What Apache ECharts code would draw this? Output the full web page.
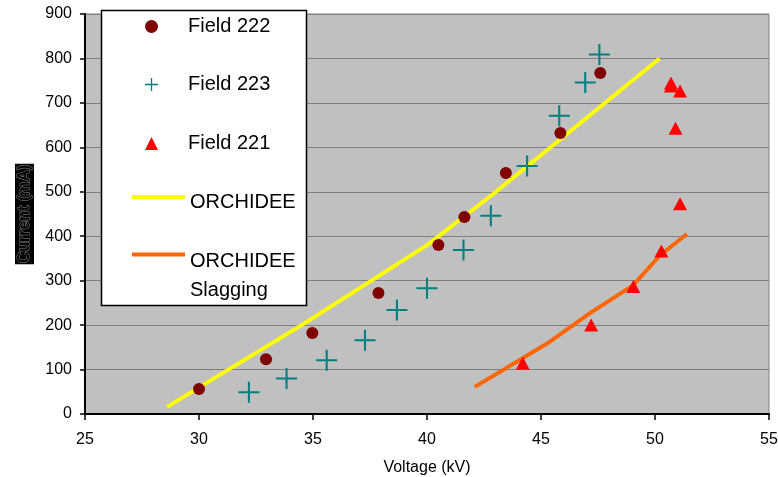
<!DOCTYPE html>
<html lang="en">
<head>
    <meta charset="UTF-8">
    <title>Current vs Voltage</title>
    <style>
        html, body {
            margin: 0;
            padding: 0;
            background: #fff;
        }
        #chart {
            width: 778px;
            height: 477px;
        }
    </style>
    <script src="https://cdn.jsdelivr.net/npm/echarts@6/dist/echarts.min.js"></script>
</head>
<body>
    <div id="chart"></div>
    <script>
        // measured points (kV, mA)
        const field222X = [30.0, 32.94, 34.97, 37.87, 40.5, 41.64, 43.46, 45.85, 47.6];
        const field222Y = [56, 123, 182, 272, 380, 443, 542, 632, 767];

        const field223X = [32.19, 33.84, 35.6, 37.28, 38.68, 40.0, 41.6, 42.8, 44.39, 45.8, 46.94, 47.56];
        const field223Y = [49, 80, 121, 166, 234, 283, 369, 446, 558, 671, 746, 809];

        const field221X = [44.2, 47.2, 49.05, 50.28, 51.1, 50.9, 50.7, 50.7, 51.1];
        const field221Y = [114, 200, 287, 367, 473, 643, 745, 738, 727];

        // model curves
        const orchX = [28.6, 34.5, 40.0, 42.9, 50.2];
        const orchY = [16, 200, 380, 495, 800];

        const slagX = [42.1, 45.25, 47.15, 49.05, 50.2, 51.4];
        const slagY = [61, 158, 227, 290, 356, 405];

        const xTicks = {min: 25, max: 55, step: 5};
        const yTicks = {min: 0, max: 900, step: 100};

        const pairs = (xs, ys) => xs.map((x, i) => [x, ys[i]]);

        const FONT = "'Liberation Sans', Arial, sans-serif";
        const plusPath = 'path://M9,0h2v20h-2z M0,9h20v2h-20z';

        // one legend per entry so each row can be placed like the original box
        function markerLegend(name, top) {
            return {
                data: [name],
                left: 145,
                top: top,
                padding: 0,
                itemWidth: 13,
                itemHeight: 13,
                z: 11,
                selectedMode: false,
                formatter: '{a|{name}}',
                textStyle: {
                    rich: {a: {fontFamily: FONT, fontSize: 20, color: '#000', lineHeight: 13, padding: [0, 0, 0, 25]}}
                }
            };
        }

        function lineLegend(name, top, text, spacer) {
            return {
                data: [name],
                left: 130,
                top: top,
                padding: 0,
                itemWidth: 53,
                itemHeight: 14,
                z: 11,
                selectedMode: false,
                itemStyle: {opacity: 0},
                lineStyle: {width: 4},
                formatter: () => '{s| }\n' + text.map(t => '{a|' + t + '}').join('\n'),
                textStyle: {
                    rich: {
                        s: {fontSize: 4, lineHeight: spacer},
                        a: {fontFamily: FONT, fontSize: 20, color: '#000', lineHeight: text.length > 1 ? 29 : 10}
                    }
                }
            };
        }

        const chart = echarts.init(document.getElementById('chart'));
        chart.setOption({
            animation: false,
            grid: {
                left: 85,
                right: 9,
                top: 14,
                bottom: 63,
                outerBoundsMode: 'none',
                containLabel: false,
                show: true,
                backgroundColor: '#c0c0c0',
                borderColor: '#808080',
                borderWidth: 1
            },
            graphic: [{
                type: 'rect',
                z: 10,
                shape: {x: 101.5, y: 10.5, width: 205, height: 295},
                style: {fill: '#fff', stroke: '#000', lineWidth: 1.5}
            }],
            legend: [
                markerLegend('Field 222', 16.5),
                markerLegend('Field 223', 74.5),
                markerLegend('Field 221', 133.5),
                lineLegend('ORCHIDEE', 190, ['ORCHIDEE'], 11),
                lineLegend('ORCHIDEE Slagging', 223.5, ['ORCHIDEE', 'Slagging'], 42)
            ],
            xAxis: {
                type: 'value',
                min: xTicks.min,
                max: xTicks.max,
                interval: xTicks.step,
                name: 'Voltage (kV)',
                nameLocation: 'middle',
                nameGap: 46,
                nameTextStyle: {fontFamily: FONT, fontSize: 16, color: '#000'},
                axisLine: {lineStyle: {color: '#000', width: 2}},
                axisTick: {show: true, length: 6, lineStyle: {color: '#000', width: 1.5}},
                axisLabel: {fontFamily: FONT, fontSize: 16, color: '#000', margin: 18},
                splitLine: {show: false}
            },
            yAxis: {
                type: 'value',
                min: yTicks.min,
                max: yTicks.max,
                interval: yTicks.step,
                name: 'Current (mA)',
                nameLocation: 'middle',
                nameRotate: 90,
                nameGap: 51,
                nameTextStyle: {
                    fontFamily: FONT,
                    fontSize: 16,
                    fontWeight: 'bold',
                    color: '#000',
                    textBorderColor: '#8c8c8c',
                    textBorderWidth: 1,
                    backgroundColor: '#000',
                    padding: [2, 1, 1, 1]
                },
                axisLine: {show: true, lineStyle: {color: '#000', width: 2}},
                axisTick: {show: true, length: 5, lineStyle: {color: '#000', width: 1.5}},
                axisLabel: {fontFamily: FONT, fontSize: 16, color: '#000', margin: 13},
                splitLine: {show: true, lineStyle: {color: '#808080', width: 1}}
            },
            series: [
                {
                    name: 'Field 222',
                    type: 'scatter',
                    symbol: 'circle',
                    symbolSize: 12,
                    itemStyle: {color: '#800000', opacity: 1},
                    data: pairs(field222X, field222Y),
                    z: 4
                },
                {
                    name: 'Field 223',
                    type: 'scatter',
                    symbol: plusPath,
                    symbolSize: 21,
                    itemStyle: {color: '#008080', opacity: 1},
                    data: pairs(field223X, field223Y),
                    z: 4
                },
                {
                    name: 'Field 221',
                    type: 'scatter',
                    symbol: 'triangle',
                    symbolSize: [14, 13],
                    itemStyle: {color: '#ff0000', opacity: 1},
                    data: pairs(field221X, field221Y),
                    z: 4
                },
                {
                    name: 'ORCHIDEE',
                    type: 'line',
                    symbol: 'none',
                    lineStyle: {color: '#ffff00', width: 4},
                    itemStyle: {color: '#ffff00'},
                    data: pairs(orchX, orchY),
                    z: 3
                },
                {
                    name: 'ORCHIDEE Slagging',
                    type: 'line',
                    symbol: 'none',
                    lineStyle: {color: '#ff6600', width: 4},
                    itemStyle: {color: '#ff6600'},
                    data: pairs(slagX, slagY),
                    z: 3
                }
            ]
        });
    </script>
</body>
</html>
